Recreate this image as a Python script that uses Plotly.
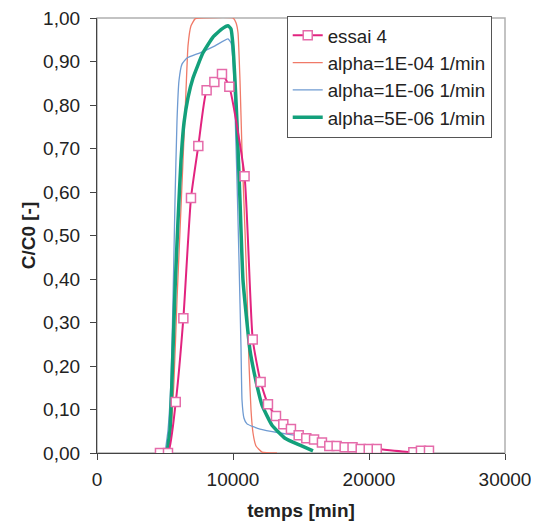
import plotly.graph_objects as go

# ---- data ----
essai_x = [4630, 5220, 5790, 6350, 6910, 7450, 8060, 8630, 9190, 9730, 10850, 11450,
           12030, 12570, 13160, 13700, 14260, 14830, 15390, 15960, 16540, 17080, 17620,
           18210, 18790, 19390, 19980, 20570, 23260, 23820, 24410]
essai_y = [0.0, 0.0, 0.117, 0.31, 0.586, 0.706, 0.834, 0.853, 0.871, 0.842, 0.636, 0.261,
           0.163, 0.112, 0.085, 0.066, 0.055, 0.041, 0.034, 0.031, 0.024, 0.016, 0.016,
           0.013, 0.013, 0.009, 0.009, 0.009, 0.002, 0.005, 0.005]

a104_x = [5221, 5441, 5662, 5882, 6103, 6324, 6544, 6691, 6912, 7206, 7500, 10000, 10221,
          10368, 10515, 10662, 10882, 11029, 11176, 11324, 11471, 11691, 12132, 13235]
a104_y = [0.0, 0.053, 0.167, 0.351, 0.511, 0.672, 0.833, 0.936, 0.982, 0.998, 1.0, 1.0, 0.989,
          0.966, 0.856, 0.695, 0.511, 0.374, 0.206, 0.099, 0.046, 0.016, 0.002, 0.0]

a106_x = [5000, 5221, 5441, 5588, 5735, 5882, 6029, 6250, 6618, 7574, 8676, 9632, 9853,
          10000, 10147, 10294, 10441, 10588, 10662, 10809, 11029, 11985, 13456, 15294, 15900]
a106_y = [0.0, 0.053, 0.167, 0.351, 0.58, 0.764, 0.856, 0.894, 0.908, 0.92, 0.936, 0.952, 0.943,
          0.901, 0.787, 0.626, 0.443, 0.243, 0.122, 0.08, 0.067, 0.055, 0.046, 0.037, 0.034]

a506_x = [5147, 5368, 5515, 5735, 5956, 6176, 6397, 6691, 7059, 7794, 8529, 9191, 9632, 9853,
          10000, 10147, 10294, 10515, 10735, 11250, 11691, 12132, 12868, 13824, 14926, 15882]
a506_y = [0.0, 0.053, 0.167, 0.374, 0.534, 0.672, 0.759, 0.817, 0.862, 0.92, 0.956, 0.975,
          0.982, 0.975, 0.936, 0.856, 0.759, 0.58, 0.397, 0.236, 0.165, 0.11, 0.064, 0.034,
          0.018, 0.005]

series_names = ["essai 4", "alpha=1E-04 1/min", "alpha=1E-06 1/min", "alpha=5E-06 1/min"]

x_tick_vals = [0, 10000, 20000, 30000]
x_tick_labels = ["0", "10000", "20000", "30000"]
y_tick_vals = [0.0, 0.1, 0.2, 0.3, 0.4, 0.5, 0.6, 0.7, 0.8, 0.9, 1.0]
y_tick_labels = ["0,00", "0,10", "0,20", "0,30", "0,40", "0,50", "0,60", "0,70", "0,80",
                 "0,90", "1,00"]

FONT = "Liberation Sans, Arial, sans-serif"

fig = go.Figure()
fig.add_trace(go.Scatter(x=a104_x, y=a104_y, mode="lines", name=series_names[1],
                         line=dict(color="#F07A68", width=1.3, shape="spline", smoothing=0.4),
                         legendrank=2))
fig.add_trace(go.Scatter(x=a106_x, y=a106_y, mode="lines", name=series_names[2],
                         line=dict(color="#6F9BD2", width=1.3, shape="spline", smoothing=0.4),
                         legendrank=3))
fig.add_trace(go.Scatter(x=a506_x, y=a506_y, mode="lines", name=series_names[3],
                         line=dict(color="#13A07B", width=3.5, shape="spline", smoothing=0.4),
                         legendrank=4))
fig.add_trace(go.Scatter(x=essai_x, y=essai_y, mode="lines+markers", name=series_names[0],
                         line=dict(color="#E2237F", width=2, shape="spline", smoothing=0.5),
                         marker=dict(symbol="square", size=9, color="white",
                                     line=dict(color="#E56BAA", width=1.5)),
                         legendrank=1))

fig.add_shape(type="rect", xref="x domain", yref="y domain", x0=0, x1=1, y0=0, y1=1,
              line=dict(color="#B0B0B0", width=1.5), layer="below")

fig.update_layout(
    width=539, height=525,
    margin=dict(l=89, r=42, t=9, b=80),
    paper_bgcolor="white", plot_bgcolor="white",
    font=dict(family=FONT, size=18, color="#222222"),
    showlegend=True,
    legend=dict(x=0.465, y=1.003, xanchor="left", yanchor="top",
                bgcolor="white", bordercolor="#555555", borderwidth=1,
                font=dict(family=FONT, size=18.7, color="#222222"),
                itemwidth=30),
    xaxis=dict(range=[0, 30000], tickvals=x_tick_vals, ticktext=x_tick_labels,
               automargin=False, ticklabeloverflow="allow",
               showgrid=False, zeroline=False, showline=True, linecolor="#444444",
               linewidth=1.2, ticks="outside", ticklen=6, tickcolor="#444444",
               ticklabelstandoff=3,
               tickfont=dict(family=FONT, size=19, color="#222222"),
               title=dict(text="<b>temps [min]</b>", standoff=14,
                          font=dict(family=FONT, size=19, color="#222222"))),
    yaxis=dict(range=[0, 1.0], tickvals=y_tick_vals, ticktext=y_tick_labels,
               automargin=False, ticklabeloverflow="allow",
               showgrid=False, zeroline=False, showline=True, linecolor="#444444",
               linewidth=1.2, ticks="outside", ticklen=6, tickcolor="#444444",
               ticklabelstandoff=6,
               tickfont=dict(family=FONT, size=19, color="#222222"),
               title=dict(text="<b>C/C0 [-]</b>", standoff=2,
                          font=dict(family=FONT, size=19, color="#222222"))),
)

fig.write_html("out.html")
